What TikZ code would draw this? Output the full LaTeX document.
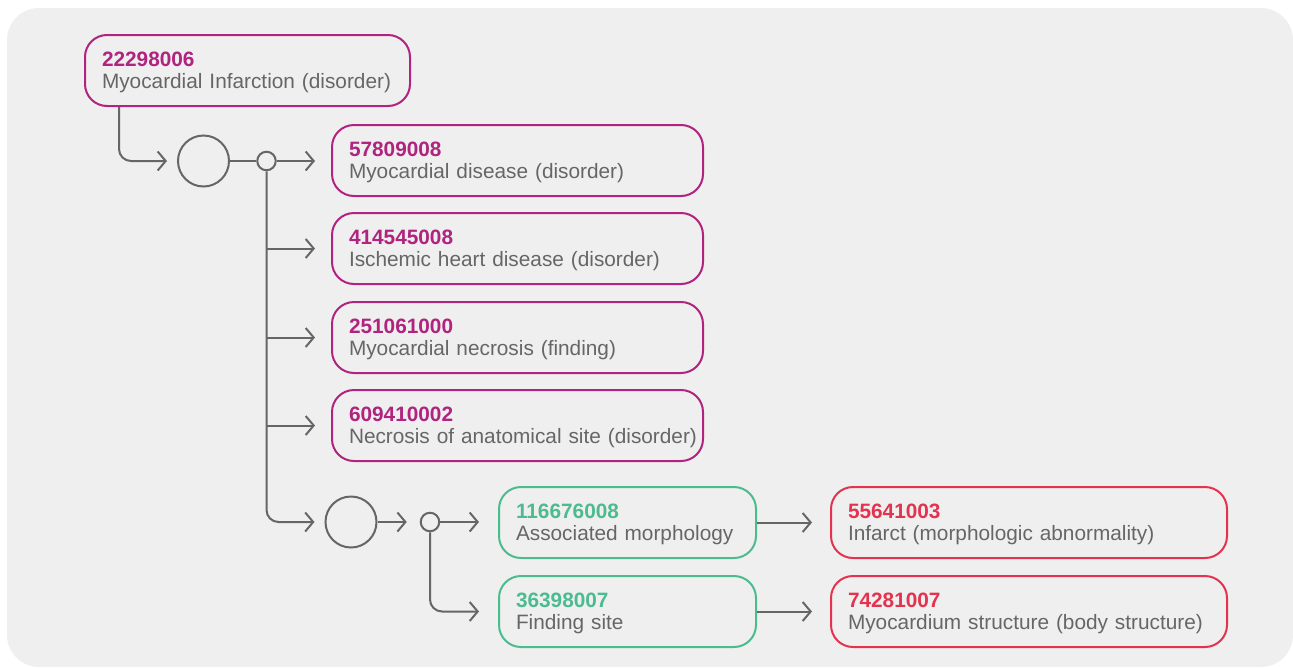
\documentclass[tikz,border=0pt]{standalone}
\usepackage{fontspec}
\setmainfont{Liberation Sans}
\usetikzlibrary{arrows.meta}

\definecolor{bgpanel}{HTML}{EFEFEF}
\definecolor{ink}{HTML}{666666}
\definecolor{plum}{HTML}{B0237E}
\definecolor{jade}{HTML}{4CBB8F}
\definecolor{rose}{HTML}{E3334F}

\tikzset{
  concept/.style={draw, line width=2pt, rounded corners=22pt, rectangle,
    minimum height=71pt, inner xsep=17pt, inner ysep=0pt, align=left,
    text=ink, font=\fontsize{20.8}{22}\selectfont},
  disorder/.style={concept, draw=plum},
  attribute/.style={concept, draw=jade},
  target/.style={concept, draw=rose},
  hub/.style={circle, draw=ink, line width=2pt, inner sep=0pt, minimum size=51pt},
  joint/.style={circle, draw=ink, line width=2pt, inner sep=0pt, minimum size=18.5pt},
  link/.style={draw=ink, line width=2pt},
  arr/.style={link, -{Straight Barb[length=8pt,width=19pt,line width=2pt]}},
}
% two-line label: concept id over its name (strut lowers the block a little)
\newcommand{\concepttext}[3]{\rule{0pt}{19pt}{\color{#1}\bfseries #2}\\\mbox{#3}}

\begin{document}
\begin{tikzpicture}[x=1pt,y=-1pt]
  \useasboundingbox (0,0) rectangle (1293,667);
  \fill[bgpanel, rounded corners=32pt] (7,8) rectangle (1293,667);

  % concept boxes
  \node[disorder, text width=291pt] (A) at (247.5,70.5)
    {\concepttext{plum}{22298006}{Myocardial Infarction (disorder)}};
  \node[disorder, text width=337pt] (B) at (517.5,160.5)
    {\concepttext{plum}{57809008}{Myocardial disease (disorder)}};
  \node[disorder, text width=337pt] (C) at (517.5,248.5)
    {\concepttext{plum}{414545008}{Ischemic heart disease (disorder)}};
  \node[disorder, text width=337pt] (D) at (517.5,337.5)
    {\concepttext{plum}{251061000}{Myocardial necrosis (finding)}};
  \node[disorder, text width=337pt] (E) at (517.5,425.5)
    {\concepttext{plum}{609410002}{Necrosis of anatomical site (disorder)}};
  \node[attribute, text width=223pt] (F) at (627.5,522.5)
    {\concepttext{jade}{116676008}{Associated morphology}};
  \node[attribute, text width=223pt] (G) at (627.5,611.5)
    {\concepttext{jade}{36398007}{Finding site}};
  \node[target, text width=362pt] (H) at (1029,522.5)
    {\concepttext{rose}{55641003}{Infarct (morphologic abnormality)}};
  \node[target, text width=362pt] (I) at (1029,611.5)
    {\concepttext{rose}{74281007}{Myocardium structure (body structure)}};

  % grouping circles
  \node[hub] (c1) at (203.5,161) {};
  \node[joint] (j1) at (266.5,161) {};
  \node[hub] (c2) at (351,522) {};
  \node[joint] (j2) at (430,522) {};

  % connectors
  \coordinate (a0) at ([xshift=35pt]A.south west);
  \draw[arr, rounded corners=12pt, shorten >=10pt] (a0) |- (c1.west);
  \draw[link] (c1.east) -- (j1.west);
  \draw[arr, shorten >=16pt] (j1.east) -- (j1.east -| B.west);
  \draw[arr, rounded corners=12pt, shorten >=10pt] (j1.south) |- (c2.west);
  \draw[arr, shorten >=16pt] (j1.south |- C.west) -- (C.west);
  \draw[arr, shorten >=16pt] (j1.south |- D.west) -- (D.west);
  \draw[arr, shorten >=16pt] (j1.south |- E.west) -- (E.west);
  \draw[arr, shorten >=13pt] (c2.east) -- (j2.west);
  \draw[arr, shorten >=19pt] (j2.east) -- (j2.east -| F.west);
  \draw[arr, rounded corners=12pt, shorten >=19pt] (j2.south) |- (G.west);
  \draw[arr, shorten >=18pt] (F.east) -- (H.west);
  \draw[arr, shorten >=18pt] (G.east) -- (I.west);
\end{tikzpicture}
\end{document}
